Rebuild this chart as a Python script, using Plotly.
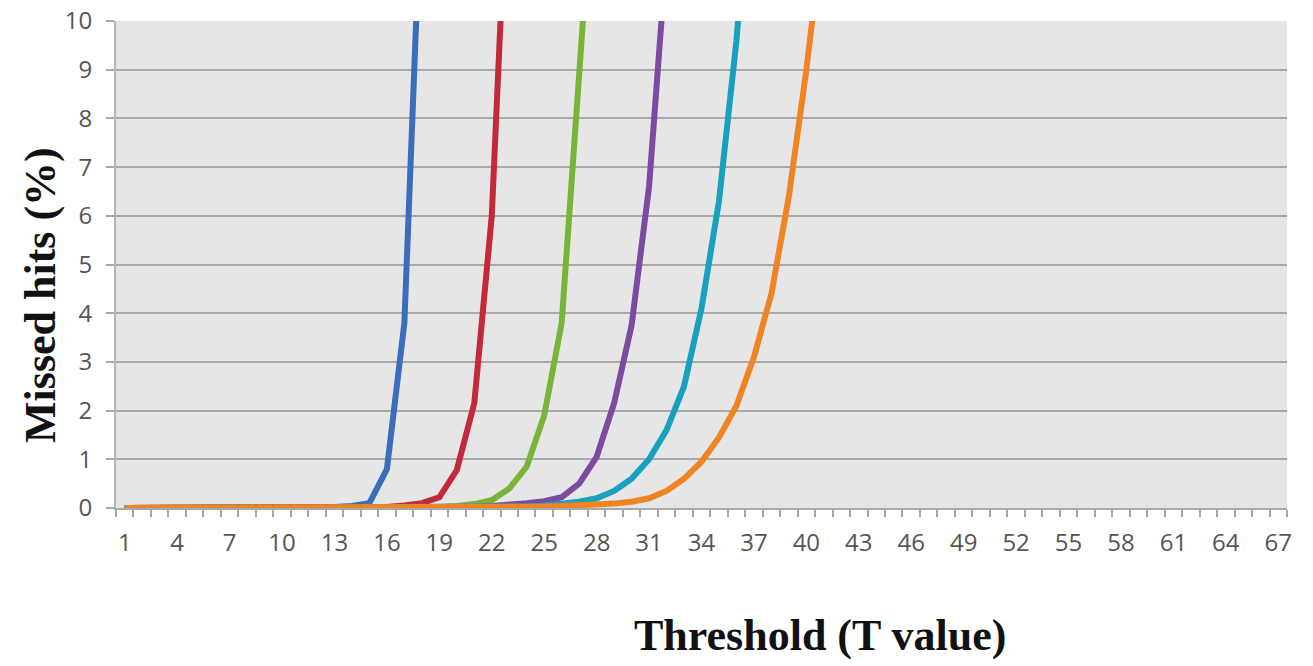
import plotly.graph_objects as go

thresholds = list(range(1, 68))
tick_labels = [str(v) for v in range(1, 68, 3)]

series_blue = [0, 0, 0, 0, 0, 0, 0, 0, 0, 0, 0, 0.01, 0.02, 0.04, 0.1, 0.8, 3.8, 13]
series_red = [0, 0, 0, 0, 0, 0, 0, 0, 0, 0, 0, 0, 0, 0, 0.01, 0.02, 0.05, 0.1, 0.22,
              0.78, 2.15, 6.0, 14]
series_green = [0, 0, 0, 0, 0, 0, 0, 0, 0, 0, 0, 0, 0, 0, 0, 0, 0, 0.01, 0.02, 0.04,
                0.08, 0.16, 0.4, 0.85, 1.9, 3.8, 8.7, 14]
series_purple = [0, 0, 0, 0, 0, 0, 0, 0, 0, 0, 0, 0, 0, 0, 0, 0, 0, 0, 0, 0.01,
                 0.02, 0.04, 0.06, 0.1, 0.14, 0.22, 0.5, 1.05, 2.15, 3.75, 6.6, 11.4]
series_cyan = [0, 0, 0, 0, 0, 0, 0, 0, 0, 0, 0, 0, 0, 0, 0, 0, 0, 0, 0, 0, 0, 0.01,
               0.02, 0.03, 0.05, 0.08, 0.13, 0.2, 0.35, 0.6, 1.0, 1.6, 2.5, 4.1, 6.3,
               9.6, 14]
series_orange = [0, 0, 0, 0, 0, 0, 0, 0, 0, 0, 0, 0, 0, 0, 0, 0, 0, 0, 0, 0, 0.01,
                 0.01, 0.02, 0.02, 0.03, 0.04, 0.05, 0.06, 0.09, 0.13, 0.2, 0.35, 0.6,
                 0.95, 1.45, 2.1, 3.1, 4.4, 6.4, 9.0, 12]

series = [
    ("Series 1", series_blue, "#3a6dbd"),
    ("Series 2", series_red, "#c3283d"),
    ("Series 3", series_green, "#79b43a"),
    ("Series 4", series_purple, "#7c4a9f"),
    ("Series 5", series_cyan, "#19a0be"),
    ("Series 6", series_orange, "#f18422"),
]

fig = go.Figure()
for name, vals, color in series:
    fig.add_trace(go.Scatter(
        x=thresholds[:len(vals)], y=vals, mode="lines", name=name,
        line=dict(color=color, width=6),
    ))

W, H = 1313, 666
L, R, T, B = 116, 26, 21, 158

fig.update_layout(
    width=W, height=H,
    margin=dict(l=L, r=R, t=T, b=B),
    paper_bgcolor="white",
    plot_bgcolor="#e6e6e6",
    showlegend=False,
    font=dict(family="Open Sans, Liberation Sans, sans-serif", color="#555555", size=24),
    xaxis=dict(
        automargin=False,
        range=[0.5, 67.5],
        tickmode="array",
        tickvals=[int(t) for t in tick_labels],
        ticktext=tick_labels,
        ticks="",
        showgrid=False,
        zeroline=False,
        showline=True, linecolor="#a8a8a8", linewidth=2,
        ticklabelstandoff=12,
        minor=dict(tickmode="linear", tick0=0.5, dtick=1, ticks="outside",
                   ticklen=7, tickcolor="#a8a8a8", tickwidth=1.5, showgrid=False),
    ),
    yaxis=dict(
        automargin=False,
        range=[0, 10],
        dtick=1,
        ticks="outside", ticklen=8, tickcolor="#a8a8a8", tickwidth=1.5,
        showgrid=True, gridcolor="#a9a9a9", gridwidth=2,
        zeroline=False,
        showline=True, linecolor="#b4b4b4", linewidth=2,
        ticklabelstandoff=9,
    ),
    annotations=[
        dict(text="<b>Threshold (T value)</b>", xref="paper", yref="paper",
             x=(820 - L) / (W - L - R), y=(H - B - 635) / (H - T - B),
             xanchor="center", yanchor="middle", showarrow=False,
             font=dict(family="Liberation Serif, Times New Roman, serif", size=44, color="#111111")),
        dict(text="<b>Missed hits (%)</b>", xref="paper", yref="paper",
             x=(40 - L) / (W - L - R), y=(H - B - 295) / (H - T - B),
             xanchor="center", yanchor="middle", showarrow=False, textangle=-90,
             font=dict(family="Liberation Serif, Times New Roman, serif", size=44, color="#111111")),
    ],
)

fig.write_html(
    "out.html",
    config={"displayModeBar": False},
    post_script="document.body.style.margin='0';document.body.style.overflow='hidden';",
)
